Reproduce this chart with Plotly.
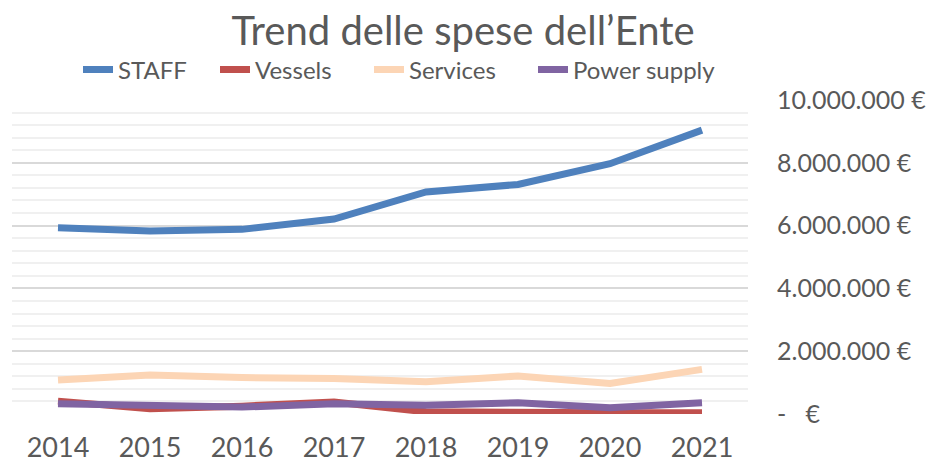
import plotly.graph_objects as go

years = ["2014", "2015", "2016", "2017", "2018", "2019", "2020", "2021"]
staff = [5930000, 5830000, 5880000, 6210000, 7070000, 7310000, 7970000, 9040000]
vessels = [410000, 170000, 250000, 380000, 70000, 30000, 40000, 40000]
services = [1080000, 1240000, 1160000, 1130000, 1030000, 1210000, 970000, 1420000]
power_supply = [330000, 300000, 220000, 330000, 280000, 360000, 200000, 360000]

y_tickvals = [0, 2000000, 4000000, 6000000, 8000000, 10000000]
y_ticktext = ["-   €", "2.000.000 €", "4.000.000 €", "6.000.000 €", "8.000.000 €", "10.000.000 €"]

series_names = ["STAFF", "Vessels", "Services", "Power supply"]
series_values = [staff, vessels, services, power_supply]
series_colors = ["#4F81BD", "#C0504D", "#FCD5B5", "#8064A2"]

FONT = "Lato, 'Open Sans', sans-serif"
GREY = "#595959"

# plot area geometry (pixels)
PL, PR, PT, PB = 12, 178, 100, 52
PW = 926 - PL - PR
PH = 466 - PT - PB

# legend entry text start positions (px) — one legend box per series
legend_text_px = [119, 256, 410, 574]

fig = go.Figure()
legend_layout = {}
for i, (name, vals, color) in enumerate(zip(series_names, series_values, series_colors)):
    lname = "legend" if i == 0 else f"legend{i + 1}"
    fig.add_trace(go.Scatter(
        x=years, y=vals, name=name, mode="lines",
        line=dict(color=color, width=7), legend=lname,
    ))
    legend_layout[lname] = dict(
        orientation="h", x=(legend_text_px[i] - 41 - PL) / PW, xanchor="left",
        y=1 + 30 / PH, yanchor="middle",
        font=dict(size=24, color=GREY, family=FONT),
        bgcolor="rgba(0,0,0,0)", itemwidth=30,
    )

fig.update_layout(
    width=926, height=466,
    margin=dict(l=PL, r=PR, t=PT, b=PB, autoexpand=False),
    paper_bgcolor="white", plot_bgcolor="white",
    font=dict(family=FONT, color=GREY),
    title=dict(text="Trend delle spese dell’Ente", x=463/926, xanchor="center",
               xref="container", y=1 - 31/466, yanchor="middle", yref="container",
               font=dict(size=40, color=GREY, family=FONT)),
    showlegend=True,
    **legend_layout,
)

fig.update_xaxes(type="category", range=[-0.5, 7.5], showgrid=False, zeroline=False,
                 showline=False, ticks="", automargin=False,
                 tickfont=dict(size=27, color=GREY, family=FONT),
                 ticklabelstandoff=15)
fig.update_yaxes(side="right", range=[0, 10000000], tickmode="array",
                 tickvals=y_tickvals, ticktext=y_ticktext, automargin=False,
                 showgrid=True, gridcolor="#D9D9D9", gridwidth=1.5,
                 zeroline=False, showline=False, ticks="",
                 tickfont=dict(size=25, color=GREY, family=FONT),
                 ticklabelstandoff=28,
                 minor=dict(dtick=400000, tick0=0, showgrid=True,
                            gridcolor="#F0F0F0", gridwidth=1.5))

fig.write_html("out.html", config={"displayModeBar": False},
               post_script="document.body.style.margin='0';document.body.style.padding='0';")
